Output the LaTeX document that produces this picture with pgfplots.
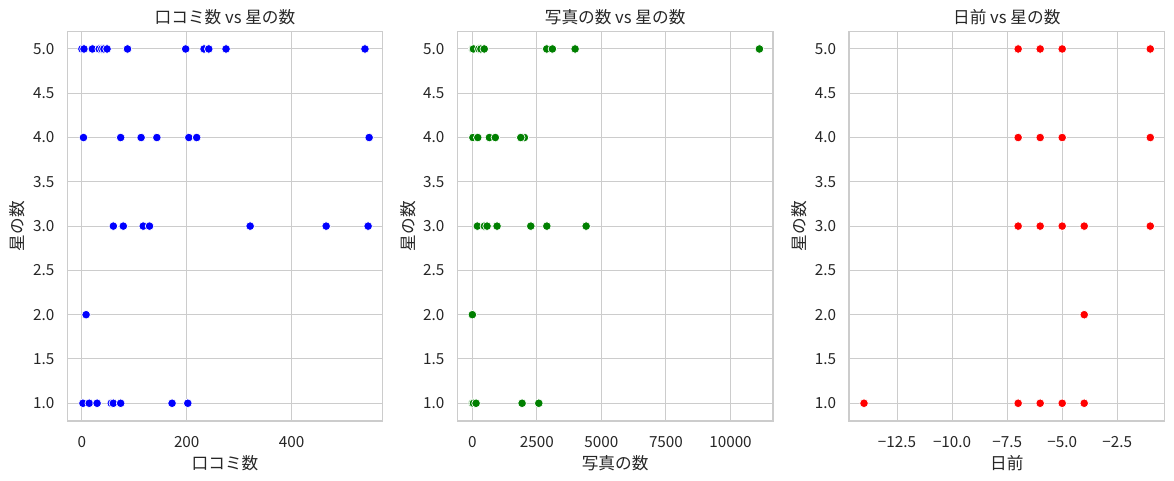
\documentclass[border=0pt]{standalone}
\usepackage{fontspec}
\setmainfont{Noto Sans CJK JP}
\usepackage{pgfplots}
\pgfplotsset{compat=1.18}
\definecolor{gridc}{HTML}{CCCCCC}
\definecolor{txt}{HTML}{262626}
\definecolor{mgreen}{HTML}{008000}
\pgfplotsset{
  myax/.style={
    scale only axis, width=227.2pt, height=280.6pt,
    anchor=south west,
    ymin=0.8, ymax=5.2,
    ytick={1,1.5,2,2.5,3,3.5,4,4.5,5}, yticklabels={1.0,1.5,2.0,2.5,3.0,3.5,4.0,4.5,5.0},
    grid=major, major grid style={gridc, line width=0.75pt},
    axis line style={gridc, line width=1pt},
    major tick length=0pt,
    tick style={draw=none},
    tick label style={font=\fontsize{11}{13}\selectfont, text=txt},
    xticklabel style={yshift=-7.8pt},
    yticklabel style={xshift=-5.8pt},
    label style={font=\fontsize{12}{14}\selectfont, text=txt},
    xlabel style={yshift=1.8pt},
    ylabel style={yshift=-1.3pt},
    title style={font=\fontsize{12}{14}\selectfont, text=txt, yshift=-5.2pt},
    ylabel={星の数},
    scaled x ticks=false,
    /pgf/number format/assume math mode=true,
    /pgf/number format/1000 sep={},
    clip=false,
  },
  pts/.style={only marks, mark=*, mark size=3.1pt, mark options={fill=#1, draw=white, line width=0.5pt}},
}
\pgfplotstableread{
x y
0 5
4 5
20 5
33 5
38 5
42 5
48 5
87 5
198 5
233 5
242 5
275 5
540 5
3 4
74 4
113 4
143 4
204 4
219 4
548 4
60 3
79 3
117 3
129 3
321 3
466 3
546 3
8 2
2 1
14 1
29 1
56 1
60 1
74 1
172 1
202 1
}\tabA
\pgfplotstableread{
x y
10 5
40 5
250 5
330 5
460 5
2880 5
3100 5
3980 5
11120 5
20 4
210 4
660 4
890 4
2015 4
1875 4
194 3
465 3
570 3
957 3
2263 3
2884 3
4407 3
0 2
0 1
40 1
143 1
1926 1
2573 1
}\tabB
\pgfplotstableread{
x y
-7 5
-6 5
-5 5
-1 5
-7 4
-6 4
-5 4
-1 4
-7 3
-6 3
-5 3
-4 3
-1 3
-4 2
-14 1
-7 1
-6 1
-5 1
-4 1
}\tabC
\begin{document}
\begin{tikzpicture}
\begin{axis}[myax, at={(48.4pt,42.5pt)},
  xmin=-28, xmax=574, xtick={0,400}, xticklabels={0,400},
  extra x ticks={200}, extra x tick labels={200},
  extra x tick style={grid=major, major grid style={gridc, line width=0.75pt}, tick style={draw=none}},
  title={口コミ数 vs 星の数}, xlabel={口コミ数}]
\addplot[pts=blue] table[x=x,y=y] {\tabA};
\end{axis}
\begin{axis}[myax, at={(329.3pt,42.5pt)},
  xmin=-581, xmax=11643, xtick={0,2500,5000,7500,10000},
  xticklabels={0,2500,5000,7500,10000},
  title={写真の数 vs 星の数}, xlabel={写真の数}]
\addplot[pts=mgreen] table[x=x,y=y] {\tabB};
\end{axis}
\begin{axis}[myax, at={(611.3pt,42.5pt)},
  xmin=-14.68, xmax=-0.35, xtick={-12.5,-10,-7.5,-5,-2.5},
  xticklabels={−12.5,−10.0,−7.5,−5.0,−2.5},
  title={日前 vs 星の数}, xlabel={日前}]
\addplot[pts=red] table[x=x,y=y] {\tabC};
\end{axis}
\pgfresetboundingbox
\useasboundingbox (0,0) rectangle (845.28pt,345.6pt);
\end{tikzpicture}
\end{document}
